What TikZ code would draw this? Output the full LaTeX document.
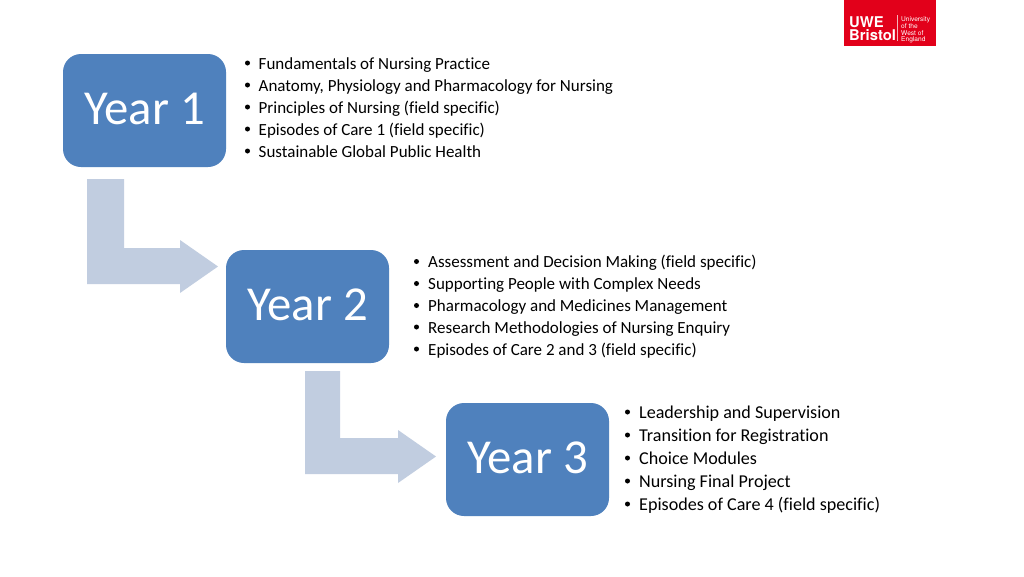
\documentclass[tikz,border=0pt]{standalone}
\usepackage{fontspec}
\setmainfont[Ligatures=CommonOff]{Carlito}
\newfontfamily\logofont{TeX Gyre Heros}
\definecolor{boxblue}{HTML}{4F81BD}
\definecolor{arrowblue}{HTML}{C1CDE0}
\definecolor{uwered}{HTML}{E2001A}
\tikzset{
  yearbox/.style={draw=none,fill=boxblue,rounded corners=18pt,minimum width=163pt,minimum height=113pt,inner sep=0pt,text=white},
  yearlabel/.style={inner sep=0pt,text=white,font=\fontsize{48.8}{48}\selectfont},
  bendarrow/.style={fill=arrowblue,draw=none},
  itemtext/.style={anchor=base west,inner sep=0pt,text=black,font=\fontsize{17}{17}\selectfont},
  itemtextb/.style={anchor=base west,inner sep=0pt,text=black,font=\fontsize{18.1}{18}\selectfont},
  dot/.style={circle,fill=black,inner sep=0pt,minimum size=5pt},
}
\begin{document}
\begin{tikzpicture}[x=1pt,y=-1pt]
\useasboundingbox (0,0) rectangle (1024,576);
\fill[white] (0,0) rectangle (1024,576);
% logo
\fill[uwered] (844,0) rectangle (936,46);
\node[anchor=base west,inner sep=0pt,text=white,font=\logofont\bfseries\fontsize{14.8}{15}\selectfont] (uwe) at (849,27) {UWE};
\node[anchor=base west,inner sep=0pt,text=white,font=\logofont\bfseries\fontsize{14.8}{15}\selectfont] (bristol) at (849,40.5) {Bristol};
\draw[white,line width=0.4pt,opacity=.7] (897.5,15) -- (897.5,41);
\foreach \nm/\yy/\tx in {la/21/University,lb/28/of the,lc/35/West of,ld/41.5/England}
  \node[anchor=base west,inner sep=0pt,text=white,font=\logofont\fontsize{6.6}{6}\selectfont] (\nm) at (901,\yy) {\tx};
% arrows
\fill[bendarrow] (87,179) -- (124,179) -- (124,248) -- (180,248) -- (180,240) -- (218,266.5) -- (180,293) -- (180,284) -- (87,284) -- cycle;
\fill[bendarrow] (305,371) -- (340,371) -- (340,438) -- (398,438) -- (398,430) -- (436,456.5) -- (398,483) -- (398,474) -- (305,474) -- cycle;
% boxes
\node[yearbox] (y1) at (144.5,110.5) {};
\node[yearbox] (y2) at (307.5,306.5) {};
\node[yearbox] (y3) at (527.5,459.5) {};
\node[yearlabel] (l1) at (144.7,108.5) {Year 1};
\node[yearlabel] (l2) at (307.7,304.5) {Year 2};
\node[yearlabel] (l3) at (527.7,457.5) {Year 3};
% lists
\foreach \nm/\yy/\tx in {a/69/Fundamentals of Nursing Practice,b/91/{Anatomy, Physiology and Pharmacology for Nursing},c/113/Principles of Nursing (field specific),d/135/Episodes of Care 1 (field specific),e/157/Sustainable Global Public Health}{
  \node[dot] (d\nm) at (247.5,\yy-6) {};
  \node[itemtext] (t\nm) at (258.5,\yy) {\tx};
}
\foreach \nm/\yy/\tx in {f/267.5/Assessment and Decision Making (field specific),g/289.5/Supporting People with Complex Needs,h/311.5/Pharmacology and Medicines Management,i/333/Research Methodologies of Nursing Enquiry,j/355/Episodes of Care 2 and 3 (field specific)}{
  \node[dot] (d\nm) at (416.5,\yy-6) {};
  \node[itemtext] (t\nm) at (428,\yy) {\tx};
}
\foreach \nm/\yy/\tx in {k/418/Leadership and Supervision,l/441/Transition for Registration,m/464/Choice Modules,n/487/Nursing Final Project,o/510/Episodes of Care 4 (field specific)}{
  \node[dot] (d\nm) at (627.5,\yy-6) {};
  \node[itemtextb] (t\nm) at (639,\yy) {\tx};
}
\end{tikzpicture}
\end{document}
